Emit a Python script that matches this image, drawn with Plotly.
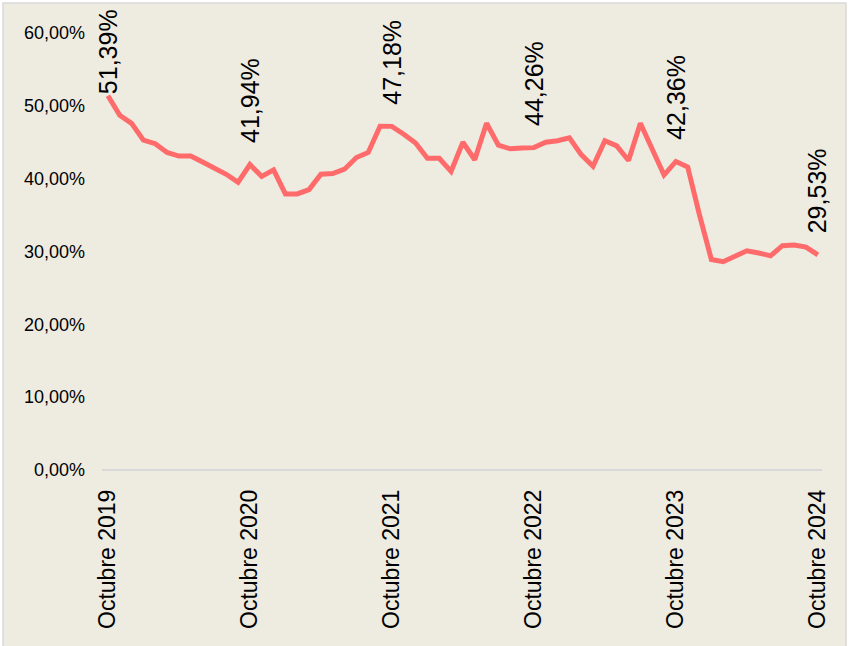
import plotly.graph_objects as go

# Monthly series, October 2019 .. October 2024 (61 months)
month_index = list(range(61))
values = [
    51.39, 48.7, 47.6, 45.3, 44.8, 43.6, 43.1, 43.1, 42.3, 41.4, 40.6, 39.5,
    41.94, 40.3, 41.2, 37.9, 37.9, 38.5, 40.6, 40.7, 41.3, 42.9, 43.6, 47.2,
    47.18, 46.1, 44.9, 42.8, 42.8, 41.0, 45.0, 42.6, 47.6, 44.6, 44.1, 44.2,
    44.26, 45.0, 45.2, 45.6, 43.3, 41.7, 45.2, 44.5, 42.5, 47.6, 44.1, 40.5,
    42.36, 41.6, 35.0, 28.9, 28.6, 29.3, 30.1, 29.8, 29.4, 30.8, 30.9, 30.6,
    29.53,
]
x_tick_vals = [0, 12, 24, 36, 48, 60]
x_tick_text = ["Octubre 2019", "Octubre 2020", "Octubre 2021",
               "Octubre 2022", "Octubre 2023", "Octubre 2024"]
y_tick_vals = [0, 10, 20, 30, 40, 50, 60]
y_tick_text = ["0,00%", "10,00%", "20,00%", "30,00%", "40,00%", "50,00%", "60,00%"]
label_idx = [0, 12, 24, 36, 48, 60]
label_text = ["51,39%", "41,94%", "47,18%", "44,26%", "42,36%", "29,53%"]

BG = "#EEEBE1"
FONT = "Liberation Sans, Arial, sans-serif"

fig = go.Figure()
fig.add_trace(go.Scatter(
    x=month_index, y=values, mode="lines",
    line=dict(color="#FF6B6B", width=5),
    hoverinfo="skip", showlegend=False,
))

L, R, T, B = 102, 27, 33, 176
W, H = 849, 646
pw, ph = W - L - R, H - T - B

annotations = []
for k, (i, t) in enumerate(zip(label_idx, label_text)):
    annotations.append(dict(
        x=i, y=values[i], xref="x", yref="y", text=t, showarrow=False,
        textangle=-90, xanchor="center", yanchor="bottom",
        yshift=0 if k == 0 else 20,
        font=dict(family=FONT, size=25, color="#000000"),
    ))

fig.update_layout(
    width=W, height=H,
    margin=dict(l=L, r=R, t=T, b=B, pad=0),
    paper_bgcolor="#FFFFFF",
    plot_bgcolor="rgba(0,0,0,0)",
    font=dict(family=FONT, color="#000000"),
    annotations=annotations,
    shapes=[dict(
        type="rect", xref="paper", yref="paper", layer="below",
        x0=(3 - L) / pw, x1=(846 - L) / pw,
        y0=-(H - T - ph + 5) / ph, y1=(ph + T - 3) / ph,
        fillcolor=BG, line=dict(color="#D9D9D9", width=1.5),
    )],
)
fig.update_xaxes(
    range=[-0.5, 60.35], tickmode="array", tickvals=x_tick_vals,
    ticktext=x_tick_text, tickangle=-90, showgrid=False, zeroline=False,
    showline=False, ticks="", ticklabelstandoff=14,
    tickfont=dict(family=FONT, size=23, color="#000000"),
)
fig.update_yaxes(
    range=[0, 60], tickmode="array", tickvals=y_tick_vals,
    ticktext=y_tick_text, showgrid=False, zeroline=True,
    zerolinecolor="#D9D9D9", zerolinewidth=2, showline=False, ticks="",
    ticklabelstandoff=16,
    tickfont=dict(family=FONT, size=18, color="#000000"),
)

fig.write_html("out.html", config={"displayModeBar": False},
               post_script="document.body.style.margin='0';")
